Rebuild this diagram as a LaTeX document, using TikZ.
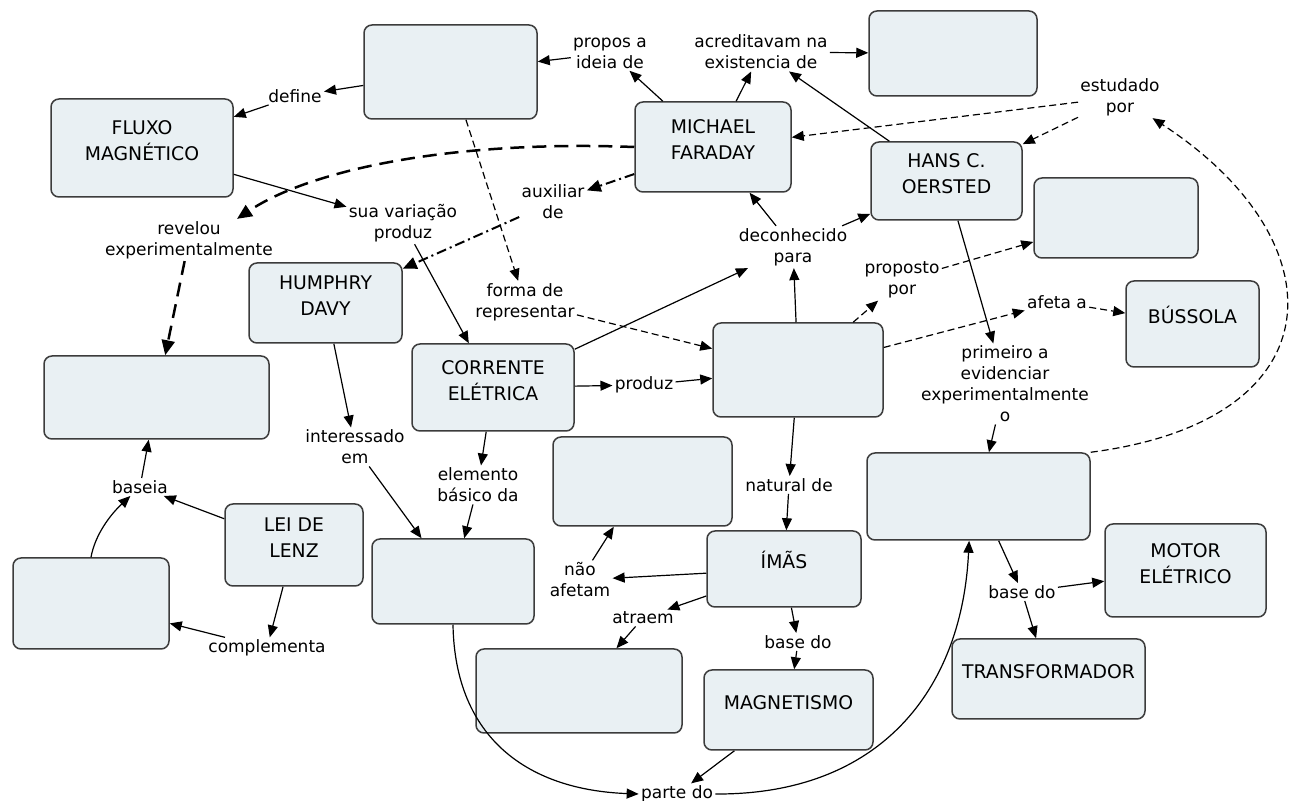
\documentclass[tikz,border=0pt]{standalone}
\usepackage{fontspec}
\setmainfont{DejaVu Sans}
\usetikzlibrary{arrows.meta,fit,calc}
\definecolor{boxfill}{RGB}{233,240,243}
\definecolor{boxline}{RGB}{60,60,60}
\newcommand\nodefont{\fontsize{9.4}{13}\selectfont}
\newcommand\lblfont{\fontsize{8.5}{10.5}\selectfont}
\begin{document}
\begin{tikzpicture}[x=0.5pt,y=-0.5pt,
  cbox/.style={draw=boxline, fill=boxfill, rounded corners=4pt, line width=0.75pt, inner sep=0pt, align=center, font=\nodefont},
  lbl/.style={inner sep=1pt, align=center, font=\lblfont},
  arr/.style={-{Triangle[length=6pt,width=5pt]}, line width=0.6pt, black},
  dsh/.style={arr, dash pattern=on 3.5pt off 2pt},
  thk/.style={-{Triangle[length=7.5pt,width=6.5pt]}, line width=1.25pt, dash pattern=on 7pt off 4pt},
  dd/.style={-{Triangle[length=7pt,width=6pt]}, line width=1pt, dash pattern=on 5pt off 2pt on 1pt off 2pt}]
\useasboundingbox (0,0) rectangle (1297,801);

% concept boxes
\node[cbox, fit={(364,25)(537,119)}] (e1) {};
\node[cbox, fit={(51,99)(233,197)}] (fluxo) {FLUXO\\MAGNÉTICO};
\node[cbox, fit={(635,102)(791,192)}] (faraday) {MICHAEL\\FARADAY};
\node[cbox, fit={(869,11)(1037,96)}] (e2) {};
\node[cbox, fit={(871,142)(1022,220)}] (hans) {HANS C.\\OERSTED};
\node[cbox, fit={(1034,178)(1198,258)}] (e3) {};
\node[cbox, fit={(249,263)(402,343)}] (humphry) {HUMPHRY\\DAVY};
\node[cbox, fit={(44,356)(269,439)}] (e4) {};
\node[cbox, fit={(412,344)(574,431)}] (corrente) {CORRENTE\\ELÉTRICA};
\node[cbox, fit={(713,323)(883,417)}] (e5) {};
\node[cbox, fit={(1126,281)(1259,367)}] (bussola) {BÚSSOLA};
\node[cbox, fit={(553,437)(732,526)}] (e6) {};
\node[cbox, fit={(707,531)(861,607)}] (imas) {ÍMÃS};
\node[cbox, fit={(867,453)(1090,540)}] (e7) {};
\node[cbox, fit={(1105,524)(1266,617)}] (motor) {MOTOR\\ELÉTRICO};
\node[cbox, fit={(952,639)(1145,719)}] (transf) {TRANSFORMADOR};
\node[cbox, fit={(704,670)(873,750)}] (magnetismo) {MAGNETISMO};
\node[cbox, fit={(476,649)(682,733)}] (e8) {};
\node[cbox, fit={(372,539)(534,624)}] (e9) {};
\node[cbox, fit={(225,504)(363,586)}] (lenz) {LEI DE\\LENZ};
\node[cbox, fit={(13,558)(169,649)}] (e10) {};

% linking phrases
\node[lbl] (define) at (295,96) {define};
\node[lbl] (propos) at (610,53) {propos a\\ideia de};
\node[lbl] (acred) at (761,52) {acreditavam na\\existencia de};
\node[lbl] (estudado) at (1120,97) {estudado\\por};
\node[lbl] (revelou) at (189,240) {revelou\\experimentalmente};
\node[lbl] (sua) at (403,223) {sua variação\\produz};
\node[lbl] (auxiliar) at (553,202) {auxiliar\\de};
\node[lbl] (deconhecido) at (793,247) {deconhecido\\para};
\node[lbl] (forma) at (525,302) {forma de\\representar};
\node[lbl] (proposto) at (902,280) {proposto\\por};
\node[lbl] (afeta) at (1057,302) {afeta a};
\node[lbl] (primeiro) at (1005,384) {primeiro a\\evidenciar\\experimentalmente\\o};
\node[lbl] (produz) at (644,385) {produz};
\node[lbl] (interessado) at (355,447) {interessado\\em};
\node[lbl] (elemento) at (478,485) {elemento\\básico da};
\node[lbl] (natural) at (789,485) {natural de};
\node[lbl] (baseia) at (140,487) {baseia};
\node[lbl] (naoafetam) at (580,580) {não\\afetam};
\node[lbl] (atraem) at (643,618) {atraem};
\node[lbl] (baseimas) at (798,642) {base do};
\node[lbl] (complementa) at (267,648) {complementa};
\node[lbl] (parte) at (677,794) {parte do};
\node[lbl] (basee7) at (1022,592) {base do};

% connectors
\draw[arr] (e1) -- (define);
\draw[arr] (define) -- (fluxo);
\draw[arr] (faraday) -- (propos);
\draw[arr] (propos) -- (e1);
\draw[arr] (faraday) -- (acred);
\draw[arr] (acred) -- (e2);
\draw[arr] (hans) -- (acred);
\draw[dsh] (estudado) -- (faraday);
\draw[dsh] (estudado) -- (hans);
\draw[dsh] (e7.north east) .. controls (1340,420) and (1340,240) .. (estudado);
\draw[thk] (faraday.west) .. controls (450,140) and (310,170) .. ($(revelou.north)+(48,0)$);
\draw[thk] (revelou) -- (e4);
\draw[dd] (faraday) -- (auxiliar);
\draw[dd] (auxiliar) -- (humphry);
\draw[dsh] (e1) -- (forma);
\draw[dsh] (forma) -- (e5);
\draw[arr] (fluxo) -- (sua);
\draw[arr] (sua) -- (corrente);
\draw[arr] (corrente) -- (deconhecido);
\draw[arr] (e5) -- (deconhecido);
\draw[arr] (deconhecido) -- (faraday);
\draw[arr] (deconhecido) -- (hans);
\draw[dsh] (e5) -- (proposto);
\draw[dsh] (proposto) -- (e3);
\draw[dsh] (e5) -- (afeta);
\draw[dsh] (afeta) -- (bussola);
\draw[arr] (hans) -- (primeiro);
\draw[arr] (primeiro) -- (e7);
\draw[arr] (corrente) -- (produz);
\draw[arr] (produz) -- (e5);
\draw[arr] (e5) -- (natural);
\draw[arr] (natural) -- (imas);
\draw[arr] (humphry) -- (interessado);
\draw[arr] (interessado) -- (e9);
\draw[arr] (corrente) -- (elemento);
\draw[arr] (elemento) -- (e9);
\draw[arr] (imas) -- (naoafetam);
\draw[arr] (naoafetam) -- (e6);
\draw[arr] (imas) -- (atraem);
\draw[arr] (atraem) -- (e8);
\draw[arr] (imas) -- (baseimas);
\draw[arr] (baseimas) -- (magnetismo);
\draw[arr] (magnetismo) -- (parte);
\draw[arr] (e9.south) .. controls (455,740) and (530,790) .. (parte.west);
\draw[arr] (parte.east) .. controls (880,795) and (962,690) .. (e7.258);
\draw[arr] (e7) -- (basee7);
\draw[arr] (basee7) -- (motor);
\draw[arr] (basee7) -- (transf);
\draw[arr] (lenz) -- (baseia);
\draw[arr] (e10.north) .. controls (95,535) and (110,515) .. (baseia);
\draw[arr] (baseia) -- (e4);
\draw[arr] (lenz) -- (complementa);
\draw[arr] (complementa) -- (e10);
\end{tikzpicture}
\end{document}
